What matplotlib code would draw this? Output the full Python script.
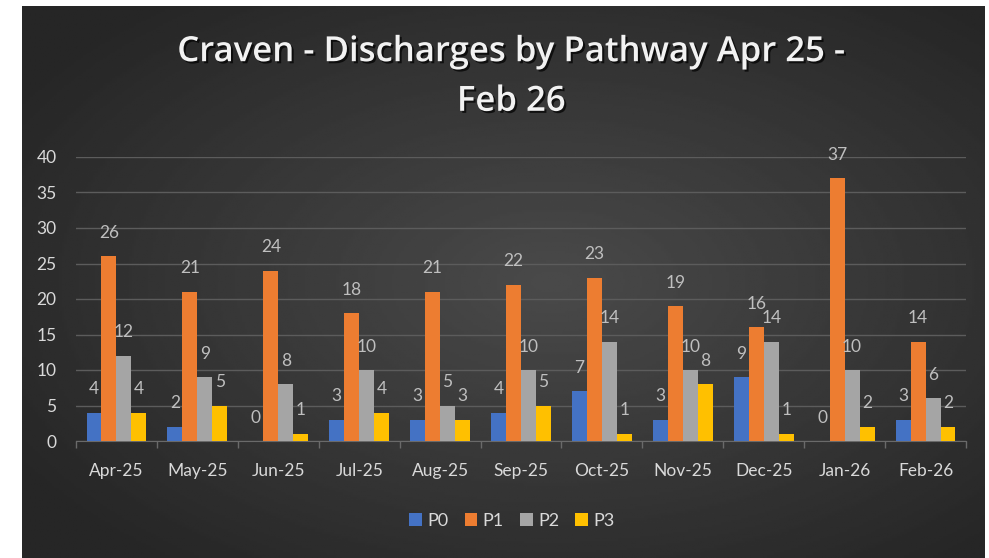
import numpy as np
import matplotlib
matplotlib.use("Agg")
from matplotlib import pyplot as plt
import matplotlib.patheffects as pe

plt.rcParams['font.family'] = ['Lato', 'DejaVu Sans']

# data
months = ["Apr-25", "May-25", "Jun-25", "Jul-25", "Aug-25", "Sep-25",
          "Oct-25", "Nov-25", "Dec-25", "Jan-26", "Feb-26"]
p0 = [4, 2, 0, 3, 3, 4, 7, 3, 9, 0, 3]
p1 = [26, 21, 24, 18, 21, 22, 23, 19, 16, 37, 14]
p2 = [12, 9, 8, 10, 5, 10, 14, 10, 14, 10, 6]
p3 = [4, 5, 1, 4, 3, 5, 1, 8, 1, 2, 2]
series = [("P0", p0, "#4472c4"), ("P1", p1, "#ed7d31"),
          ("P2", p2, "#a5a5a5"), ("P3", p3, "#ffc000")]

fig = plt.figure(figsize=(9.89, 5.58), dpi=100, facecolor="white")

# dark radial gradient background
bg = fig.add_axes([22 / 989, 0, 963 / 989, 552 / 558])
gx, gy = np.meshgrid(np.linspace(-1, 1, 400), np.linspace(-1, 1, 240))
r = np.clip(np.sqrt((gx - 0.1) ** 2 + gy ** 2) / 1.3, 0, 1)
bg.imshow(0.29 - 0.14 * r, cmap="gray", vmin=0, vmax=1, aspect="auto",
          extent=[0, 1, 0, 1])
bg.axis("off")

ax = fig.add_axes([76 / 989, 1 - 441 / 558, 890 / 989, 284 / 558])
ax.patch.set_alpha(0)

x = np.arange(len(months))
w = 0.185
for i, (name, vals, col) in enumerate(series):
    pos = x + (i - 1.5) * w
    ax.bar(pos, vals, width=w, color=col, label=name, zorder=3)
    for px, v in zip(pos, vals):
        ax.text(px, v + 3.3, str(v), ha="center", va="center",
                fontsize=12.5, color="#bfbfbf", zorder=4)

ax.set_xlim(-0.5, 10.5)
ax.set_ylim(0, 40)
ax.set_yticks(range(0, 41, 5))
ax.set_xticks(x)
ax.set_xticklabels(months)
ax.set_xticks(np.arange(-0.5, 11, 1), minor=True)
ax.tick_params(axis="x", which="major", length=0, pad=16, labelsize=12.5,
               labelcolor="#d9d9d9")
ax.tick_params(axis="x", which="minor", length=5, color="#6a6a6a", width=1)
ax.tick_params(axis="y", length=0, pad=14, labelsize=12.5, labelcolor="#d9d9d9")
ax.grid(axis="y", color="#5c5c5c", linewidth=1, zorder=0)
for s in ["top", "right", "left"]:
    ax.spines[s].set_visible(False)
ax.spines["bottom"].set_color("#6a6a6a")

fig.text(0.517, 1 - 77 / 558, "Craven - Discharges by Pathway Apr 25 -\nFeb 26",
         ha="center", va="center", fontsize=25, fontweight="semibold",
         family=["Open Sans", "DejaVu Sans"],
         color="#f2f2f2", linespacing=1.6,
         path_effects=[pe.withSimplePatchShadow(offset=(1.5, -1.5),
                                                shadow_rgbFace="black",
                                                alpha=0.7)])

leg = fig.legend(loc="center", bbox_to_anchor=(512 / 989, 1 - 521 / 558),
                 ncol=4, frameon=False, fontsize=13, handlelength=0.7,
                 handleheight=0.7, handletextpad=0.3, columnspacing=0.9,
                 labelcolor="#d9d9d9")

fig.savefig("out.png", dpi=100, facecolor="white")
